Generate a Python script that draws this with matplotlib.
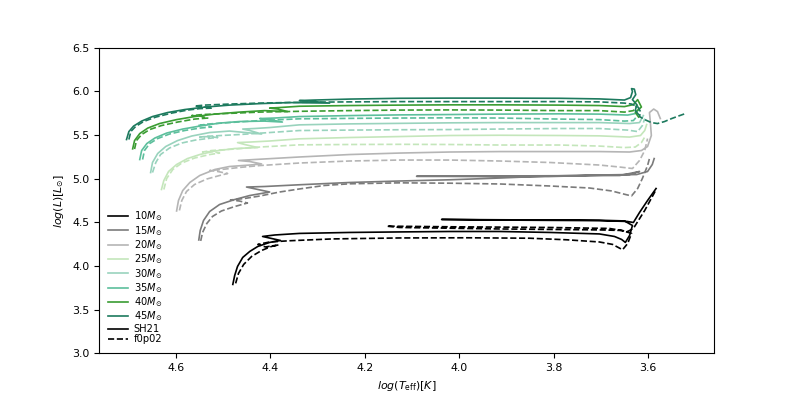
import matplotlib
matplotlib.use("Agg")
import matplotlib.pyplot as plt
from matplotlib.lines import Line2D

# Trazas evolutivas: log(Teff) y log(L) para cada masa
# modelo SH21 (linea continua) y f0p02 (linea punteada)

t10_sh = [4.479, 4.475, 4.469, 4.458, 4.443, 4.426, 4.401, 4.378, 4.397, 4.416, 4.390, 4.338, 4.232, 4.126,
          4.020, 3.914, 3.808, 3.703, 3.671, 3.656, 3.648, 3.639, 3.633, 3.650, 3.703, 3.914, 4.037, 3.914,
          3.703, 3.644, 3.631, 3.618, 3.601, 3.583]
l10_sh = [3.789, 3.892, 3.995, 4.098, 4.167, 4.224, 4.270, 4.292, 4.315, 4.338, 4.355, 4.373, 4.384, 4.390,
          4.395, 4.395, 4.384, 4.367, 4.338, 4.304, 4.270, 4.350, 4.464, 4.516, 4.524, 4.529, 4.533, 4.526,
          4.519, 4.510, 4.498, 4.613, 4.750, 4.887]
t10_f = [4.473, 4.467, 4.456, 4.439, 4.418, 4.397, 4.382, 4.410, 4.426, 4.401, 4.359, 4.268, 4.126, 3.984,
         3.851, 3.772, 3.703, 3.675, 3.654, 3.643, 3.635, 3.656, 3.703, 3.914, 4.126, 4.153, 4.020, 3.808,
         3.682, 3.643, 3.631, 3.607, 3.584]
l10_f = [3.801, 3.915, 4.018, 4.110, 4.178, 4.224, 4.241, 4.218, 4.247, 4.275, 4.289, 4.310, 4.321, 4.323,
         4.318, 4.300, 4.275, 4.247, 4.186, 4.258, 4.373, 4.407, 4.413, 4.424, 4.441, 4.456, 4.449, 4.441,
         4.430, 4.395, 4.430, 4.636, 4.864]

t15_sh = [4.551, 4.548, 4.541, 4.528, 4.507, 4.475, 4.443, 4.401, 4.426, 4.450, 4.412, 4.338, 4.232, 4.126,
          4.020, 3.914, 3.811, 3.703, 3.639, 3.618, 3.660, 3.811, 3.958, 4.090, 3.958, 3.811, 3.703, 3.624,
          3.601, 3.591, 3.587]
l15_sh = [4.298, 4.407, 4.521, 4.624, 4.704, 4.761, 4.807, 4.847, 4.876, 4.904, 4.910, 4.930, 4.956, 4.973,
          4.987, 5.007, 5.030, 5.042, 5.047, 5.082, 5.036, 5.033, 5.030, 5.027, 5.024, 5.024, 5.039, 5.047,
          5.082, 5.162, 5.230]
t15_f = [4.547, 4.543, 4.534, 4.522, 4.503, 4.475, 4.448, 4.465, 4.484, 4.454, 4.422, 4.380, 4.338, 4.285,
         4.232, 4.126, 4.020, 3.914, 3.808, 3.724, 3.677, 3.648, 3.635, 3.622, 3.612, 3.601, 3.597]
l15_f = [4.287, 4.384, 4.487, 4.567, 4.630, 4.681, 4.721, 4.744, 4.756, 4.773, 4.801, 4.847, 4.882, 4.922,
         4.941, 4.952, 4.948, 4.939, 4.916, 4.893, 4.859, 4.819, 4.802, 4.887, 5.002, 5.150, 5.230]

t20_sh = [4.598, 4.594, 4.585, 4.570, 4.549, 4.517, 4.486, 4.443, 4.418, 4.443, 4.467, 4.433, 4.338, 4.232,
          4.126, 4.020, 3.914, 3.787, 3.703, 3.639, 3.614, 3.601, 3.593, 3.595, 3.597, 3.588, 3.580, 3.574]
l20_sh = [4.630, 4.750, 4.864, 4.956, 5.036, 5.105, 5.139, 5.156, 5.168, 5.196, 5.208, 5.219, 5.248, 5.276,
          5.293, 5.305, 5.310, 5.310, 5.310, 5.305, 5.322, 5.368, 5.494, 5.642, 5.757, 5.797, 5.768, 5.688]
t20_f = [4.592, 4.587, 4.577, 4.560, 4.534, 4.507, 4.490, 4.511, 4.528, 4.503, 4.465, 4.422, 4.338, 4.232,
         4.126, 4.020, 3.914, 3.808, 3.703, 3.660, 3.633, 3.618, 3.607, 3.601]
l20_f = [4.636, 4.750, 4.853, 4.933, 4.996, 5.036, 5.059, 5.082, 5.093, 5.105, 5.128, 5.150, 5.179, 5.202,
         5.213, 5.213, 5.202, 5.185, 5.156, 5.133, 5.116, 5.208, 5.322, 5.459]

t25_sh = [4.630, 4.625, 4.615, 4.598, 4.575, 4.549, 4.517, 4.475, 4.426, 4.454, 4.469, 4.443, 4.401, 4.338,
          4.232, 4.126, 4.020, 3.914, 3.787, 3.703, 3.639, 3.616, 3.607, 3.603]
l25_sh = [4.876, 4.979, 5.082, 5.162, 5.230, 5.276, 5.316, 5.345, 5.356, 5.391, 5.413, 5.419, 5.431, 5.456,
          5.471, 5.482, 5.494, 5.497, 5.494, 5.490, 5.476, 5.494, 5.551, 5.619]
t25_f = [4.625, 4.619, 4.606, 4.587, 4.560, 4.528, 4.507, 4.524, 4.543, 4.524, 4.475, 4.422, 4.338, 4.232,
         4.126, 4.020, 3.914, 3.787, 3.703, 3.650, 3.627, 3.614, 3.605]
l25_f = [4.876, 5.002, 5.105, 5.179, 5.236, 5.276, 5.293, 5.310, 5.305, 5.322, 5.339, 5.362, 5.387, 5.391,
         5.393, 5.391, 5.385, 5.385, 5.373, 5.356, 5.362, 5.413, 5.494]

t30_sh = [4.653, 4.649, 4.638, 4.621, 4.596, 4.566, 4.528, 4.486, 4.418, 4.443, 4.458, 4.433, 4.401, 4.338,
          4.232, 4.126, 4.020, 3.914, 3.787, 3.703, 3.639, 3.618, 3.610]
l30_sh = [5.070, 5.185, 5.288, 5.368, 5.436, 5.488, 5.528, 5.545, 5.511, 5.551, 5.568, 5.574, 5.585, 5.616,
          5.627, 5.633, 5.639, 5.642, 5.642, 5.642, 5.631, 5.642, 5.722]
t30_f = [4.649, 4.642, 4.632, 4.613, 4.587, 4.558, 4.524, 4.511, 4.532, 4.549, 4.524, 4.465, 4.401, 4.338,
         4.232, 4.126, 4.020, 3.914, 3.787, 3.703, 3.643, 3.622, 3.612, 3.607]
l30_f = [5.070, 5.185, 5.276, 5.351, 5.408, 5.442, 5.465, 5.471, 5.482, 5.476, 5.488, 5.505, 5.528, 5.551,
         5.556, 5.560, 5.562, 5.568, 5.574, 5.574, 5.556, 5.539, 5.608, 5.688]

t35_sh = [4.676, 4.672, 4.661, 4.644, 4.619, 4.585, 4.549, 4.507, 4.465, 4.412, 4.374, 4.401, 4.422, 4.390,
          4.338, 4.232, 4.126, 4.020, 3.914, 3.787, 3.703, 3.643, 3.627, 3.618]
l35_sh = [5.219, 5.322, 5.402, 5.465, 5.522, 5.568, 5.602, 5.636, 5.654, 5.659, 5.648, 5.676, 5.688, 5.694,
          5.711, 5.722, 5.730, 5.734, 5.739, 5.742, 5.739, 5.728, 5.745, 5.802]
t35_f = [4.670, 4.666, 4.655, 4.638, 4.613, 4.581, 4.549, 4.524, 4.539, 4.553, 4.532, 4.486, 4.422, 4.338,
         4.232, 4.126, 4.020, 3.914, 3.787, 3.703, 3.650, 3.631, 3.622]
l35_f = [5.219, 5.322, 5.402, 5.459, 5.511, 5.551, 5.579, 5.591, 5.614, 5.608, 5.625, 5.642, 5.665, 5.685,
         5.690, 5.694, 5.696, 5.694, 5.682, 5.676, 5.659, 5.665, 5.722]

t40_sh = [4.691, 4.687, 4.676, 4.659, 4.634, 4.598, 4.560, 4.517, 4.465, 4.412, 4.363, 4.384, 4.401, 4.380,
          4.338, 4.232, 4.126, 4.020, 3.914, 3.787, 3.703, 3.650, 3.631, 3.622, 3.614, 3.627, 3.620]
l40_sh = [5.341, 5.436, 5.516, 5.579, 5.631, 5.676, 5.711, 5.739, 5.762, 5.779, 5.768, 5.797, 5.808, 5.814,
          5.829, 5.837, 5.842, 5.845, 5.845, 5.842, 5.837, 5.825, 5.848, 5.905, 5.820, 5.760, 5.705]
t40_f = [4.687, 4.683, 4.672, 4.655, 4.630, 4.596, 4.560, 4.532, 4.549, 4.566, 4.543, 4.496, 4.422, 4.338,
         4.232, 4.126, 4.020, 3.914, 3.787, 3.703, 3.650, 3.631, 3.622]
l40_f = [5.339, 5.436, 5.505, 5.562, 5.608, 5.648, 5.682, 5.694, 5.717, 5.722, 5.734, 5.745, 5.762, 5.771,
         5.779, 5.785, 5.787, 5.785, 5.779, 5.779, 5.762, 5.779, 5.848]

t45_sh = [4.704, 4.699, 4.689, 4.672, 4.649, 4.617, 4.581, 4.539, 4.486, 4.422, 4.359, 4.274, 4.316, 4.338,
          4.306, 4.232, 4.126, 4.020, 3.914, 3.787, 3.703, 3.650, 3.637, 3.633, 3.635, 3.629, 3.626, 3.633,
          3.624, 3.627, 3.620]
l45_sh = [5.448, 5.539, 5.602, 5.659, 5.711, 5.757, 5.791, 5.819, 5.842, 5.859, 5.871, 5.865, 5.888, 5.894,
          5.900, 5.911, 5.920, 5.922, 5.922, 5.920, 5.913, 5.900, 5.928, 5.997, 6.031, 6.025, 5.962, 5.905,
          5.848, 5.779, 5.734]
t45_f = [4.699, 4.695, 4.685, 4.668, 4.642, 4.608, 4.575, 4.549, 4.522, 4.543, 4.560, 4.539, 4.486, 4.422,
         4.338, 4.232, 4.126, 4.020, 3.914, 3.787, 3.703, 3.650, 3.635, 3.622, 3.616, 3.618, 3.607, 3.593,
         3.580, 3.565, 3.550, 3.533, 3.521]
l45_f = [5.448, 5.539, 5.596, 5.654, 5.705, 5.751, 5.785, 5.802, 5.808, 5.825, 5.831, 5.842, 5.854, 5.865,
         5.874, 5.879, 5.882, 5.882, 5.882, 5.882, 5.879, 5.865, 5.854, 5.825, 5.768, 5.711, 5.676, 5.642,
         5.631, 5.654, 5.688, 5.722, 5.745]

masas = ["10", "15", "20", "25", "30", "35", "40", "45"]
colores = ["black", "#7b7b7b", "#b5b5b5", "#c4e6bb", "#99d3bd", "#5cbf9c", "#3a9c32", "#1d7a5e"]

trazas_sh = [(t10_sh, l10_sh), (t15_sh, l15_sh), (t20_sh, l20_sh), (t25_sh, l25_sh),
             (t30_sh, l30_sh), (t35_sh, l35_sh), (t40_sh, l40_sh), (t45_sh, l45_sh)]
trazas_f = [(t10_f, l10_f), (t15_f, l15_f), (t20_f, l20_f), (t25_f, l25_f),
            (t30_f, l30_f), (t35_f, l35_f), (t40_f, l40_f), (t45_f, l45_f)]

plt.rcParams["font.size"] = 7.9

fig, ax = plt.subplots(figsize=(7.93, 3.97), dpi=100)

# Graficamos cada masa con los dos modelos
for i in range(len(masas)):
    t, l = trazas_sh[i]
    ax.plot(t, l, color=colores[i], lw=1.2, ls="-")
    t, l = trazas_f[i]
    ax.plot(t, l, color=colores[i], lw=1.2, ls="--")

# Leyenda con las masas y los dos modelos
manijas = [Line2D([], [], color=c, lw=1.2) for c in colores]
etiquetas = ["{}$M_{{\\odot}}$".format(m) for m in masas]
manijas += [Line2D([], [], color="black", lw=1.2, ls="-"),
            Line2D([], [], color="black", lw=1.2, ls="--")]
etiquetas += ["SH21", "f0p02"]
ax.legend(manijas, etiquetas, loc="lower left", frameon=False, fontsize=7.1,
          labelspacing=0.05, handlelength=2.0, handletextpad=0.6)

ax.set_xlim(4.762, 3.461)
ax.set_ylim(3.0, 6.5)
ax.set_xlabel("$log(T_{\\rm eff})[K]$")
ax.set_ylabel("$log(L)[L_{\\odot}]$")

fig.savefig("out.png", dpi=100)
